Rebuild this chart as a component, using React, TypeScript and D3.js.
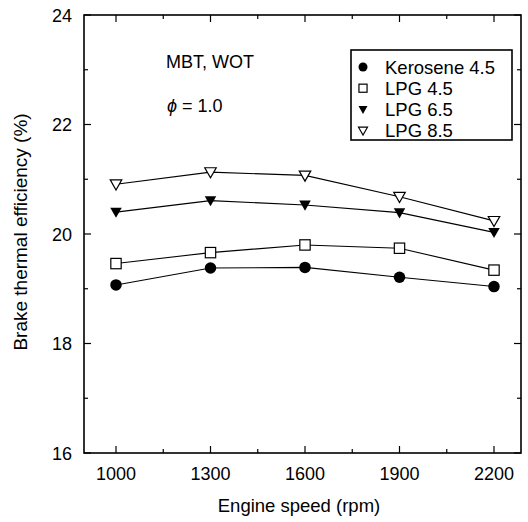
import React from "react";
import * as d3 from "d3";

// Engine speed (rpm)
const speeds = [1000, 1300, 1600, 1900, 2200];

// Brake thermal efficiency (%) per fuel / compression ratio
const kerosene45 = [19.07, 19.38, 19.39, 19.21, 19.04];
const lpg45 = [19.46, 19.66, 19.8, 19.74, 19.34];
const lpg65 = [20.4, 20.61, 20.53, 20.39, 20.03];
const lpg85 = [20.91, 21.13, 21.07, 20.68, 20.24];

const seriesNames = ["Kerosene 4.5", "LPG 4.5", "LPG 6.5", "LPG 8.5"];
const seriesValues = [kerosene45, lpg45, lpg65, lpg85];
const seriesMarkers = ["circle", "square", "triDown", "triDownOpen"];

const xMajorTicks = [1000, 1300, 1600, 1900, 2200];
const xMinorTicks = [1150, 1450, 1750, 2050];
const yMajorTicks = [16, 18, 20, 22, 24];
const yMinorTicks = [17, 19, 21, 23];

const W = 528;
const H = 522;
const FONT = "'Liberation Sans', Arial, Helvetica, sans-serif";

const left = 84;
const right = 521;
const top = 15;
const bottom = 453;

// 1000 rpm sits at x=116 and 2200 rpm at x=494
const pxPerRpm = (494 - 116) / 1200;
const x = d3
  .scaleLinear()
  .domain([1000 - (116 - left) / pxPerRpm, 2200 + (right - 494) / pxPerRpm])
  .range([left, right]);
const y = d3.scaleLinear().domain([16, 24]).range([bottom, top]);

function Marker({ kind, cx, cy, s }: { kind: string; cx: number; cy: number; s: number }) {
  if (kind === "circle") {
    return <circle cx={cx} cy={cy} r={s * 0.5} fill="#000" />;
  }
  if (kind === "square") {
    const h = s * 0.45;
    return (
      <rect x={cx - h} y={cy - h} width={2 * h} height={2 * h} fill="#fff" stroke="#000" strokeWidth={1.2} />
    );
  }
  const hw = s * 0.5;
  const up = s * 0.38;
  const down = s * 0.5;
  const d = `M${cx - hw},${cy - up} L${cx + hw},${cy - up} L${cx},${cy + down} Z`;
  if (kind === "triDown") return <path d={d} fill="#000" />;
  return <path d={d} fill="#fff" stroke="#000" strokeWidth={1.2} strokeLinejoin="miter" />;
}

export default function App() {
  const line = d3
    .line<number>()
    .x((_, i) => x(speeds[i]))
    .y((v) => y(v));

  const legendX = 351;
  const legendY = 50;
  const legendW = 161;
  const legendH = 90;
  const rowGap = 21.2;

  return (
    <svg width={W} height={H} style={{ display: "block", position: "absolute", left: 0, top: 0 }}>
      <rect x={0} y={0} width={W} height={H} fill="#fff" />

      {/* ticks, pointing inward on all sides */}
      <g stroke="#000" strokeWidth={1.2}>
        {xMajorTicks.map((t) => (
          <g key={"xM" + t}>
            <line x1={x(t)} x2={x(t)} y1={bottom} y2={bottom - 7} />
            <line x1={x(t)} x2={x(t)} y1={top} y2={top + 7} />
          </g>
        ))}
        {xMinorTicks.map((t) => (
          <g key={"xm" + t}>
            <line x1={x(t)} x2={x(t)} y1={bottom} y2={bottom - 4} />
            <line x1={x(t)} x2={x(t)} y1={top} y2={top + 4} />
          </g>
        ))}
        {yMajorTicks.map((t) => (
          <g key={"yM" + t}>
            <line x1={left} x2={left + 7} y1={y(t)} y2={y(t)} />
            <line x1={right} x2={right - 7} y1={y(t)} y2={y(t)} />
          </g>
        ))}
        {yMinorTicks.map((t) => (
          <g key={"ym" + t}>
            <line x1={left} x2={left + 4} y1={y(t)} y2={y(t)} />
            <line x1={right} x2={right - 4} y1={y(t)} y2={y(t)} />
          </g>
        ))}
      </g>

      {/* frame */}
      <rect x={left} y={top} width={right - left} height={bottom - top} fill="none" stroke="#000" strokeWidth={1.6} />

      {/* tick labels */}
      <g fontFamily={FONT} fontSize={18} fill="#000">
        {xMajorTicks.map((t) => (
          <text key={"xl" + t} x={x(t)} y={480} textAnchor="middle">
            {t}
          </text>
        ))}
        {yMajorTicks.map((t) => (
          <text key={"yl" + t} x={72} y={y(t) + 6.5} textAnchor="end">
            {t}
          </text>
        ))}
      </g>

      {/* axis titles */}
      <text x={299} y={512} textAnchor="middle" fontFamily={FONT} fontSize={18.5} fill="#000">
        Engine speed (rpm)
      </text>
      <text
        transform={`translate(27,232) rotate(-90)`}
        textAnchor="middle"
        fontFamily={FONT}
        fontSize={19}
        fill="#000"
      >
        Brake thermal efficiency (%)
      </text>

      {/* series */}
      {seriesValues.map((vals, si) => (
        <g key={"s" + si}>
          <path d={line(vals) || ""} fill="none" stroke="#000" strokeWidth={1.1} />
          {vals.map((v, i) => (
            <Marker key={i} kind={seriesMarkers[si]} cx={x(speeds[i])} cy={y(v)} s={11.5} />
          ))}
        </g>
      ))}

      {/* annotations */}
      <text x={166} y={68} fontFamily={FONT} fontSize={18} fill="#000">
        MBT, WOT
      </text>
      <text x={167} y={112} fontFamily={FONT} fontSize={18} fill="#000">
        <tspan fontStyle="italic">{"\u03D5"}</tspan>
        <tspan> = 1.0</tspan>
      </text>

      {/* legend */}
      <rect x={legendX} y={legendY} width={legendW} height={legendH} fill="#fff" stroke="#000" strokeWidth={1.6} />
      {seriesNames.map((name, i) => {
        const cy = legendY + 17 + i * rowGap;
        return (
          <g key={"lg" + i}>
            <Marker kind={seriesMarkers[i]} cx={363} cy={cy} s={9} />
            <text x={385} y={cy + 6.5} fontFamily={FONT} fontSize={18.5} fill="#000">
              {name}
            </text>
          </g>
        );
      })}
    </svg>
  );
}
